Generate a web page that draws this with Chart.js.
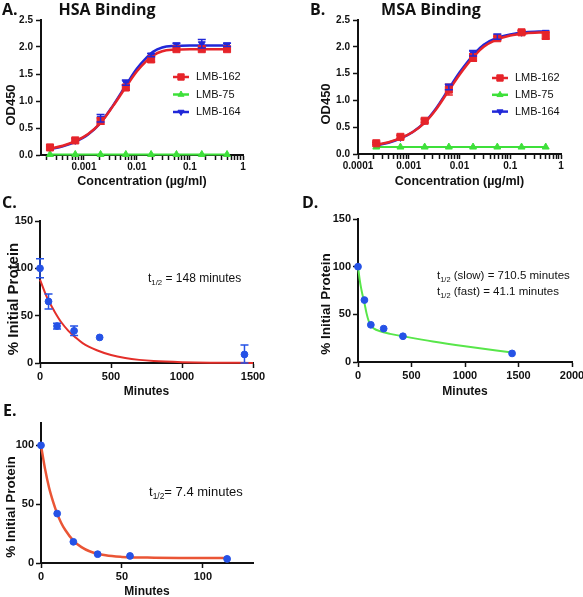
<!DOCTYPE html>
<html><head><meta charset="utf-8">
<script src="https://cdn.jsdelivr.net/npm/chart.js@4.4.1/dist/chart.umd.min.js"></script>
<style>
html,body{margin:0;padding:0;background:#fff;}
#fig{position:relative;width:583px;height:597px;overflow:hidden;background:#fff;}
canvas{position:absolute;}
.lbl{position:absolute;font-family:'Open Sans',sans-serif;font-weight:700;font-size:16px;line-height:1;color:#111;white-space:nowrap;}
.ann{position:absolute;font-family:'Liberation Sans',Arial,sans-serif;line-height:1;color:#111;white-space:nowrap;}
.ann sub{font-size:65%;vertical-align:baseline;position:relative;top:0.35em;}
.yt{position:absolute;font-family:'Liberation Sans',Arial,sans-serif;font-weight:700;line-height:1;color:#111;white-space:nowrap;transform:translate(-50%,-50%) rotate(-90deg);}
</style></head><body>
<div id="fig">
<canvas id="cA"></canvas><canvas id="cB"></canvas><canvas id="cC"></canvas><canvas id="cD"></canvas><canvas id="cE"></canvas>
<div class="lbl" style="left:2px;top:1px">A.</div>
<div class="lbl" style="left:40px;top:1px;width:134px;text-align:center">HSA Binding</div>
<div class="lbl" style="left:310px;top:1px">B.</div>
<div class="lbl" style="left:364px;top:1px;width:134px;text-align:center">MSA Binding</div>
<div class="lbl" style="left:2px;top:194px">C.</div>
<div class="lbl" style="left:302px;top:194px">D.</div>
<div class="lbl" style="left:3px;top:402px">E.</div>
<div class="yt" style="left:10px;top:105px;font-size:13px">OD450</div>
<div class="yt" style="left:325px;top:104px;font-size:13px">OD450</div>
<div class="yt" style="left:12px;top:299px;font-size:15px">% Initial Protein</div>
<div class="yt" style="left:326px;top:304px;font-size:13.5px">% Initial Protein</div>
<div class="yt" style="left:11px;top:507px;font-size:13.5px">% Initial Protein</div>
<div class="ann" style="left:148px;top:272px;font-size:12px">t<sub>1/2</sub> = 148 minutes</div>
<div class="ann" style="left:437px;top:270px;font-size:11.5px">t<sub>1/2</sub> (slow) = 710.5 minutes</div>
<div class="ann" style="left:437px;top:286px;font-size:11.5px">t<sub>1/2</sub> (fast) = 41.1 minutes</div>
<div class="ann" style="left:149px;top:485px;font-size:13px">t<sub>1/2</sub>= 7.4 minutes</div>
</div>
<script>
// ---------------- data ----------------
const seriesNames = ['LMB-162', 'LMB-75', 'LMB-164'];
const conc = [0.000229, 0.000686, 0.00206, 0.00617, 0.0185, 0.0556, 0.167, 0.5];

const hsa162 = [0.14, 0.27, 0.63, 1.25, 1.77, 1.96, 1.96, 1.96];
const hsa162Err = [0, 0, 0.06, 0.05, 0.05, 0, 0, 0];
const hsa75 = [0.01, 0.01, 0.01, 0.01, 0.01, 0.01, 0.01, 0.01];
const hsa164 = [0.12, 0.27, 0.68, 1.34, 1.85, 2.04, 2.06, 2.04];
const hsa164Err = [0, 0, 0.07, 0.05, 0.03, 0.03, 0.08, 0.03];

const msa162 = [0.20, 0.32, 0.62, 1.20, 1.80, 2.16, 2.27, 2.21];
const msa162Err = [0.02, 0.03, 0.03, 0.10, 0.07, 0.03, 0.03, 0.07];
const msa75 = [0.13, 0.13, 0.13, 0.13, 0.13, 0.13, 0.13, 0.13];
const msa164 = [0.18, 0.31, 0.62, 1.25, 1.88, 2.19, 2.27, 2.27];
const msa164Err = [0, 0, 0, 0.05, 0.05, 0.05, 0, 0];

const fitConc = [0.00023, 0.0004, 0.0007, 0.0012, 0.002, 0.0035, 0.006, 0.01, 0.015, 0.02, 0.03, 0.05, 0.1, 0.2, 0.5];
const hsaFit162 = [0.12, 0.17, 0.26, 0.39, 0.58, 0.90, 1.24, 1.55, 1.74, 1.84, 1.92, 1.95, 1.96, 1.96, 1.96];
const hsaFit164 = [0.11, 0.16, 0.25, 0.38, 0.58, 0.91, 1.27, 1.60, 1.80, 1.91, 1.99, 2.02, 2.03, 2.03, 2.03];
const msaFit162 = [0.17, 0.22, 0.30, 0.41, 0.57, 0.84, 1.17, 1.48, 1.70, 1.84, 2.00, 2.12, 2.21, 2.25, 2.27];
const msaFit164 = [0.16, 0.21, 0.29, 0.41, 0.58, 0.86, 1.20, 1.52, 1.74, 1.88, 2.04, 2.15, 2.23, 2.27, 2.29];

const minutesCD = [0, 60, 120, 240, 420, 1440];
const pctC = [100, 65, 39, 34, 27, 9];
const pctCErr = [10, 8, 3, 5, 0, 10];
const fitMinC = [0, 50, 100, 150, 200, 250, 300, 400, 500, 600, 700, 800, 1000, 1200, 1500];
const fitPctC = [88, 69, 55, 43, 34, 27, 21, 13.5, 8.5, 5.3, 3.3, 2.1, 0.9, 0.3, 0.1];

const pctD = [100, 65, 39, 35, 27, 9];
const fitMinD = [0, 15, 30, 45, 60, 80, 100, 125, 150, 200, 300, 420, 700, 1000, 1440];
const fitPctD = [100, 87, 77, 69, 62, 51, 43, 37.5, 35, 32.5, 29.5, 27, 21.5, 16.5, 10];

const minutesE = [0, 10, 20, 35, 55, 115];
const pctE = [100, 42, 18, 7.5, 6, 3.5];
const fitMinE = [0, 2.5, 5, 7.5, 10, 12.5, 15, 20, 25, 30, 40, 50, 70, 90, 115];
const fitPctE = [100, 80, 64, 52, 42, 34, 28, 19, 13.5, 10, 6.5, 5.2, 4.5, 4.3, 4.2];

const odTickLabels = ['0.0', '0.5', '1.0', '1.5', '2.0', '2.5'];
const hsaConcTickLabels = ['0.001', '0.01', '0.1', '1'];
const msaConcTickLabels = ['0.0001', '0.001', '0.01', '0.1', '1'];
const pctTickLabels = ['0', '50', '100', '150'];
const pctETickLabels = ['0', '50', '100'];
const minCTickLabels = ['0', '500', '1000', '1500'];
const minDTickLabels = ['0', '500', '1000', '1500', '2000'];
const minETickLabels = ['0', '50', '100'];

// ---------------- styling ----------------
const RED = '#e6242a', GREEN = '#3ee03a', BLUE = '#2128d8';
const DOT = '#2552e6', CRED = '#e42f2a', DGREEN = '#58e64a', EORANGE = '#ea5535';
const SANS = "'Liberation Sans', Arial, sans-serif";

const pts = (xs, ys) => xs.map((x, i) => ({x: x, y: ys[i]}));

const errorBars = {
  id: 'errorBars',
  afterDatasetsDraw(chart) {
    const ctx = chart.ctx, ys = chart.scales.y;
    chart.data.datasets.forEach((ds, i) => {
      if (!ds.errors) return;
      const meta = chart.getDatasetMeta(i);
      ctx.save();
      ctx.strokeStyle = ds.borderColor;
      ctx.lineWidth = 1.5;
      meta.data.forEach((el, j) => {
        const e = ds.errors[j];
        if (!e) return;
        const v = ds.data[j].y;
        const yt = ys.getPixelForValue(v + e), yb = ys.getPixelForValue(Math.max(v - e, 0));
        ctx.beginPath();
        ctx.moveTo(el.x, yt); ctx.lineTo(el.x, yb);
        ctx.moveTo(el.x - 4, yt); ctx.lineTo(el.x + 4, yt);
        ctx.moveTo(el.x - 4, yb); ctx.lineTo(el.x + 4, yb);
        ctx.stroke();
      });
      ctx.restore();
    });
  }
};

const inLegend = {
  id: 'inLegend',
  afterDraw(chart, args, opts) {
    if (!opts || !opts.items) return;
    const ctx = chart.ctx;
    ctx.save();
    opts.items.forEach((di, k) => {
      const ds = chart.data.datasets[di];
      const y = opts.y + k * opts.rowH;
      ctx.strokeStyle = ds.borderColor;
      ctx.fillStyle = ds.backgroundColor;
      ctx.lineWidth = 2.5;
      ctx.beginPath(); ctx.moveTo(opts.x, y); ctx.lineTo(opts.x + 16, y); ctx.stroke();
      ctx.lineWidth = 1;
      Chart.helpers.drawPoint(ctx, {pointStyle: ds.pointStyle, radius: ds.pointRadius - 0.5, rotation: ds.pointRotation || 0, borderWidth: 1}, opts.x + 8, y);
      ctx.fillStyle = '#111';
      ctx.font = '11px ' + SANS;
      ctx.textBaseline = 'middle';
      ctx.textAlign = 'left';
      ctx.fillText(ds.label, opts.x + 23, y);
    });
    ctx.restore();
  }
};

function axisBase(tickSize) {
  return {
    grid: {display: true, drawOnChartArea: false, drawTicks: true, tickLength: 5, tickWidth: 1.5, tickColor: '#111'},
    border: {display: true, color: '#111', width: 2},
    ticks: {color: '#111', font: {family: SANS, weight: 'bold', size: tickSize}, padding: 2, autoSkip: false, maxRotation: 0}
  };
}

function logTicksBuilder() {
  return function (scale) {
    const vals = [];
    for (let d = -5; d <= 0; d++) {
      for (let m = 1; m <= 9; m++) {
        const v = m * Math.pow(10, d);
        if (v >= scale.min * 0.999 && v <= scale.max * 1.001) vals.push({value: v});
      }
    }
    scale.ticks = vals;
  };
}
function logLabel(labels) {
  return function (v) {
    const s = labels.find(l => Math.abs(parseFloat(l) - v) / v < 1e-6);
    return s === undefined ? '' : s;
  };
}
function listTicks(labels) {
  return function (scale) {
    scale.ticks = labels.map(l => ({value: parseFloat(l)}));
  };
}

function panel(id, box, area, o) {
  const cv = document.getElementById(id);
  cv.width = box.w; cv.height = box.h;
  cv.style.left = box.l + 'px'; cv.style.top = box.t + 'px';
  cv.style.width = box.w + 'px'; cv.style.height = box.h + 'px';
  const yW = area.l - box.l, xH = box.t + box.h - area.b;
  const xLH = o.xTitleSize * 1.2;
  const xb = axisBase(o.tickSize), yb = axisBase(o.tickSize);
  const xScale = Object.assign(xb, o.x, {
    afterFit(s) { s.height = xH; },
    title: {display: true, text: o.xTitle, color: '#111', font: {family: SANS, weight: 'bold', size: o.xTitleSize},
            padding: {top: 0, bottom: box.t + box.h - o.xTitleY - xLH / 2}}
  });
  xScale.ticks = Object.assign(xb.ticks, o.xTicks || {});
  const yScale = Object.assign(yb, o.y, {afterFit(s) { s.width = yW; }});
  yScale.ticks = Object.assign(yb.ticks, o.yTicks || {});
  return new Chart(cv, {
    type: 'scatter',
    data: {datasets: o.datasets},
    options: {
      responsive: false, animation: false, devicePixelRatio: 1,
      layout: {padding: {left: 0, top: area.t - box.t, right: box.l + box.w - area.r, bottom: 0}},
      plugins: {legend: {display: false}, tooltip: {enabled: false}, inLegend: o.legend || {}},
      scales: {x: xScale, y: yScale}
    },
    plugins: [errorBars, inLegend]
  });
}

function fitDs(xs, ys, color, width, order) {
  return {data: pts(xs, ys), showLine: true, borderColor: color, backgroundColor: color, borderWidth: width,
          pointRadius: 0, cubicInterpolationMode: 'monotone', order: order, clip: false};
}
function markDs(label, xs, ys, errs, color, style, radius, rot, order, line) {
  return {label: label, data: pts(xs, ys), errors: errs, showLine: !!line, borderColor: color, backgroundColor: color,
          borderWidth: line ? 2 : 1, pointStyle: style, pointRadius: radius, pointRotation: rot, pointBorderWidth: 1,
          order: order, clip: false};
}

function bindingDatasets(f162, f164, d162, e162, d75, d164, e164) {
  return [
    markDs(seriesNames[0], conc, d162, e162, RED, 'rect', 5, 0, 0),
    markDs(seriesNames[1], conc, d75, null, GREEN, 'triangle', 4, 0, 0.5, true),
    markDs(seriesNames[2], conc, d164, e164, BLUE, 'triangle', 4, 180, 1),
    fitDs(fitConc, f162, RED, 2.5, 2),
    fitDs(fitConc, f164, BLUE, 2.5, 3)
  ];
}

// ---- A ----
panel('cA', {l: 0, t: 0, w: 290, h: 200}, {l: 41, t: 20, r: 243, b: 155}, {
  tickSize: 10, xTitle: 'Concentration (\u00b5g/ml)', xTitleSize: 12.5, xTitleY: 182,
  x: {type: 'logarithmic', min: 0.000155, max: 1, bounds: 'data', afterBuildTicks: logTicksBuilder()},
  xTicks: {callback: logLabel(hsaConcTickLabels), padding: 1},
  y: {type: 'linear', min: 0, max: 2.5, afterBuildTicks: listTicks(odTickLabels)},
  yTicks: {callback: (v, i) => odTickLabels[i], padding: 3},
  datasets: bindingDatasets(hsaFit162, hsaFit164, hsa162, hsa162Err, hsa75, hsa164, hsa164Err),
  legend: {items: [0, 1, 2], x: 173, y: 77, rowH: 17.5}
});

// ---- B ----
panel('cB', {l: 290, t: 0, w: 293, h: 200}, {l: 358, t: 20, r: 561, b: 154}, {
  tickSize: 10, xTitle: 'Concentration (\u00b5g/ml)', xTitleSize: 12.5, xTitleY: 182,
  x: {type: 'logarithmic', min: 0.0001, max: 1, bounds: 'data', afterBuildTicks: logTicksBuilder()},
  xTicks: {callback: logLabel(msaConcTickLabels), padding: 1},
  y: {type: 'linear', min: 0, max: 2.5, afterBuildTicks: listTicks(odTickLabels)},
  yTicks: {callback: (v, i) => odTickLabels[i], padding: 3},
  datasets: bindingDatasets(msaFit162, msaFit164, msa162, msa162Err, msa75, msa164, msa164Err),
  legend: {items: [0, 1, 2], x: 202, y: 78, rowH: 16.8}
});

// ---- C ----
panel('cC', {l: 0, t: 200, w: 290, h: 200}, {l: 40, t: 221, r: 253, b: 363}, {
  tickSize: 11, xTitle: 'Minutes', xTitleSize: 12, xTitleY: 392,
  x: {type: 'linear', min: 0, max: 1500, afterBuildTicks: listTicks(minCTickLabels)},
  xTicks: {callback: (v, i) => minCTickLabels[i]},
  y: {type: 'linear', min: 0, max: 150, afterBuildTicks: listTicks(pctTickLabels)},
  yTicks: {callback: (v, i) => pctTickLabels[i]},
  datasets: [
    markDs('C', minutesCD, pctC, pctCErr, DOT, 'circle', 3.4, 0, 0),
    fitDs(fitMinC, fitPctC, CRED, 2, 1)
  ]
});

// ---- D ----
panel('cD', {l: 290, t: 200, w: 310, h: 200}, {l: 358, t: 219, r: 572, b: 362}, {
  tickSize: 11, xTitle: 'Minutes', xTitleSize: 12, xTitleY: 392,
  x: {type: 'linear', min: 0, max: 2000, afterBuildTicks: listTicks(minDTickLabels)},
  xTicks: {callback: (v, i) => minDTickLabels[i]},
  y: {type: 'linear', min: 0, max: 150, afterBuildTicks: listTicks(pctTickLabels)},
  yTicks: {callback: (v, i) => pctTickLabels[i]},
  datasets: [
    markDs('D', minutesCD, pctD, null, DOT, 'circle', 3.4, 0, 0),
    fitDs(fitMinD, fitPctD, DGREEN, 2, 1)
  ]
});

// ---- E ----
panel('cE', {l: 0, t: 400, w: 290, h: 215}, {l: 41, t: 423, r: 253, b: 563}, {
  tickSize: 11, xTitle: 'Minutes', xTitleSize: 12, xTitleY: 592,
  x: {type: 'linear', min: 0, max: 131, afterBuildTicks: listTicks(minETickLabels)},
  xTicks: {callback: (v, i) => minETickLabels[i]},
  y: {type: 'linear', min: 0, max: 119, afterBuildTicks: listTicks(pctETickLabels)},
  yTicks: {callback: (v, i) => pctETickLabels[i]},
  datasets: [
    markDs('E', minutesE, pctE, null, DOT, 'circle', 3.4, 0, 0),
    fitDs(fitMinE, fitPctE, EORANGE, 2.5, 1)
  ]
});
</script>
</body></html>
